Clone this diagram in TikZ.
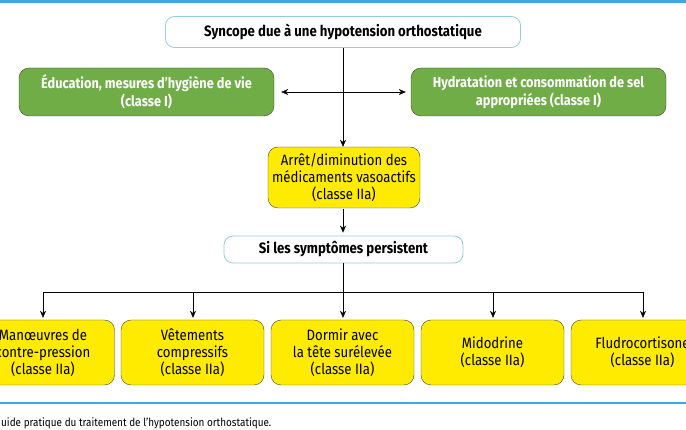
\documentclass[tikz,border=0pt]{standalone}
\usepackage{fontspec}
\setmainfont{Fira Sans}[FakeStretch=0.88]
\usepackage{tikz}
\usepackage{xcolor}
\usetikzlibrary{arrows.meta, positioning, shapes}
\definecolor{mysky}{RGB}{60, 170, 225}
\definecolor{myteal}{RGB}{150, 205, 215}
\definecolor{mygreen}{RGB}{112, 173, 71}
\definecolor{myyellow}{RGB}{255, 235, 0}
\definecolor{myedge}{RGB}{70, 70, 50}

\begin{document}
\begin{tikzpicture}[x=1pt,y=-1pt,
    font=\fontsize{15}{17}\selectfont,
    head/.style={draw=myteal,thick,rounded corners=9pt,fill=white,
      font=\fontsize{15}{17}\selectfont\bfseries,inner sep=0pt},
    greenbox/.style={draw=myedge,fill=mygreen,rounded corners=10pt,text=white,
      font=\fontsize{14.5}{18}\selectfont\bfseries,align=center,
      minimum width=255pt,minimum height=48pt,inner sep=0pt},
    yellowbox/.style={draw=myedge,fill=myyellow,rounded corners=10pt,
      align=center,minimum width=143pt,minimum height=65pt,inner sep=0pt},
    arr/.style={-{Stealth[length=7pt,width=6pt]},thin}]
        \useasboundingbox (0,0) rectangle (686,430);
        \draw[mysky,line width=3pt](0,1.5)--(686,1.5);
        \draw[mysky,line width=1.5pt](0,403)--(686,403);
        \node[anchor=west,inner sep=0pt,font=\fontsize{11.3}{13}\selectfont] (caption) at (1,423)
          {uide pratique du traitement de l’hypotension orthostatique.};

        \node[head,minimum width=355pt,minimum height=31pt] (syncope) at (343,32)
          {Syncope due à une hypotension orthostatique};
        \node[greenbox] (education) at (146.5,92)
          {Éducation, mesures d’hygiène de vie\\(classe I)};
        \node[greenbox] (hydratation) at (538.5,92)
          {Hydratation et consommation de sel\\appropriées (classe I)};
        \node[yellowbox,minimum width=152pt,minimum height=61pt] (arret) at (344,177.5)
          {Arrêt/diminution des\\médicaments vasoactifs\\(classe IIa)};
        \node[head,minimum width=239pt,minimum height=27pt] (persist) at (343.5,249.5)
          {Si les symptômes persistent};

        \node[yellowbox] (manoeuvres) at (43,352.5)
          {Manœuvres de\\contre-pression\\(classe IIa)};
        \node[yellowbox] (vetements) at (192.5,352.5)
          {Vêtements\\compressifs\\(classe IIa)};
        \node[yellowbox] (dormir) at (342.5,352.5)
          {Dormir avec\\la tête surélevée\\(classe IIa)};
        \node[yellowbox] (midodrine) at (492.5,352.5)
          {Midodrine\\(classe IIa)};
        \node[yellowbox] (fludro) at (642.5,352.5)
          {Fludrocortisone\\(classe IIa)};

        \draw[arr] (syncope.south -| 343,0) -- (arret.north -| 343,0);
        \draw[arr,{Stealth[length=7pt,width=6pt]}-{Stealth[length=7pt,width=6pt]},
          shorten <=7pt,shorten >=5pt] (education.east) -- (hydratation.west);
        \draw[arr,shorten <=1pt,shorten >=3pt] (arret.south -| 343,0) -- (persist.north -| 343,0);
        \coordinate (split) at (343,292);
        \draw (persist.south -| split) -- (split);
        \foreach \n/\x in {manoeuvres/43,vetements/193,dormir/343,midodrine/493,fludro/643}
          \draw[arr,shorten >=2pt] (split) -| (\x,0 |- \n.north);
\end{tikzpicture}
\end{document}
